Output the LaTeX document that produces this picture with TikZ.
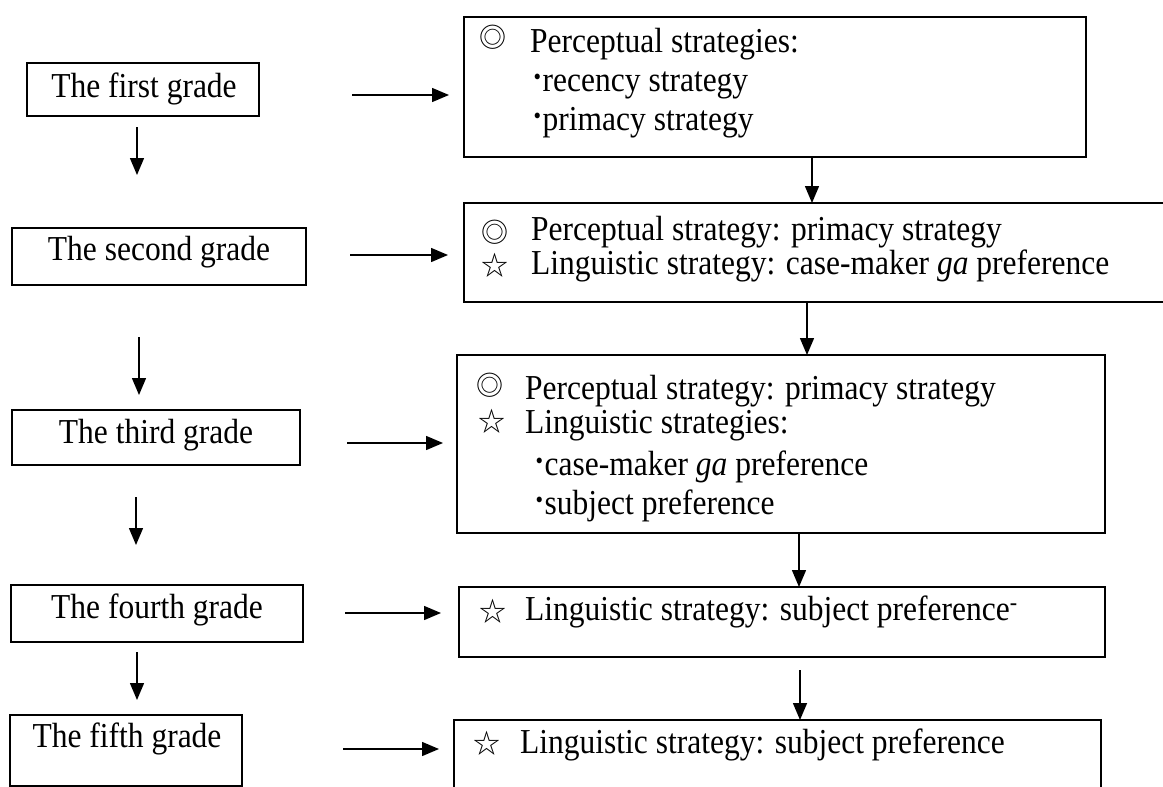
\documentclass[tikz,border=0pt]{standalone}
\usepackage{fontspec}
\setmainfont{Liberation Serif}[FakeStretch=0.9]
\newfontfamily\symfont{Noto Sans CJK JP}
\usetikzlibrary{arrows.meta}
\newcommand{\bul}{\raisebox{3pt}{\textbf{·}}}
\tikzset{
  box/.style={draw, line width=1.9pt, rectangle, inner sep=0pt, outer sep=0pt, anchor=north west},
  txt/.style={inner sep=0pt, anchor=base west, font=\fontsize{35}{40}\selectfont},
  ctxt/.style={inner sep=0pt, anchor=base, font=\fontsize{35}{40}\selectfont},
  sym/.style={inner sep=0pt, anchor=center, font=\symfont\fontsize{27}{30}\selectfont},
  arr/.style={line width=1.5pt, -{Triangle[length=17pt,width=14pt]}},
}
\newcommand{\mkbox}[5]{\node[box, minimum width=#4pt-#2pt, minimum height=#5pt-#3pt] (#1) at (#2,#3) {};}
\begin{document}
\begin{tikzpicture}[x=1pt, y=-1pt]
\useasboundingbox (0,0) rectangle (1163,787);
\clip (0,0) rectangle (1163,787);
% left boxes
\mkbox{L1}{27}{63}{259}{116}
\mkbox{L2}{12}{228}{306}{285}
\mkbox{L3}{12}{410}{300}{465}
\mkbox{L4}{11}{585}{303}{642}
\mkbox{L5}{10}{715}{242}{786}
\node[ctxt] (t1) at (144,97) {The first grade};
\node[ctxt] (t2) at (159,260) {The second grade};
\node[ctxt] (t3) at (156,443) {The third grade};
\node[ctxt] (t4) at (157,618) {The fourth grade};
\node[ctxt] (t5) at (127,747) {The fifth grade};
% right boxes
\mkbox{R1}{464}{17}{1086}{157}
\mkbox{R2}{464}{203}{1175}{302}
\mkbox{R3}{457}{355}{1105}{533}
\mkbox{R4}{459}{587}{1105}{657}
\mkbox{R5}{454}{720}{1101}{800}
% box 1
\node[sym] (s11) at (493,37) {◎};
\node[txt] (r11) at (530,52) {Perceptual strategies:};
\node[txt] (r12) at (532,91) {\bul recency strategy};
\node[txt] (r13) at (532,130) {\bul primacy strategy};
% box 2
\node[sym] (s21) at (495,232) {◎};
\node[txt] (r21) at (531,240) {Perceptual strategy: primacy strategy};
\node[sym] (s22) at (495,265) {☆};
\node[txt] (r22) at (531,274) {Linguistic strategy: case-maker \textit{ga} preference};
% box 3
\node[sym] (s31) at (490,385) {◎};
\node[txt] (r31) at (525,399) {Perceptual strategy: primacy strategy};
\node[sym] (s32) at (492,421) {☆};
\node[txt] (r32) at (525,433) {Linguistic strategies:};
\node[txt] (r33) at (534,475) {\bul case-maker \textit{ga} preference};
\node[txt] (r34) at (534,514) {\bul subject preference};
% box 4
\node[sym] (s41) at (493,611) {☆};
\node[txt] (r41) at (525,620) {Linguistic strategy: subject preference\textsuperscript{-}};
% box 5
\node[sym] (s51) at (487,743) {☆};
\node[txt] (r51) at (520,753) {Linguistic strategy: subject preference};
% left vertical arrows
\coordinate (v1a) at (137,127); \coordinate (v1b) at (137,175);
\coordinate (v2a) at (139,337); \coordinate (v2b) at (139,395);
\coordinate (v3a) at (136,497); \coordinate (v3b) at (136,545);
\coordinate (v4a) at (137,652); \coordinate (v4b) at (137,700);
\draw[arr] (v1a) -- (v1b);
\draw[arr] (v2a) -- (v2b);
\draw[arr] (v3a) -- (v3b);
\draw[arr] (v4a) -- (v4b);
% horizontal arrows
\coordinate (h1a) at (352,95);  \coordinate (h1b) at (449,95);
\coordinate (h2a) at (350,255); \coordinate (h2b) at (448,255);
\coordinate (h3a) at (347,443); \coordinate (h3b) at (443,443);
\coordinate (h4a) at (345,613); \coordinate (h4b) at (441,613);
\coordinate (h5a) at (343,749); \coordinate (h5b) at (439,749);
\draw[arr] (h1a) -- (h1b);
\draw[arr] (h2a) -- (h2b);
\draw[arr] (h3a) -- (h3b);
\draw[arr] (h4a) -- (h4b);
\draw[arr] (h5a) -- (h5b);
% right vertical arrows
\coordinate (k1) at (812,0);
\coordinate (k2) at (807,0);
\coordinate (k3) at (799,0);
\coordinate (k4) at (800,670);
\draw[arr] (k1 |- R1.south) -- (k1 |- R2.north);
\draw[arr] (k2 |- R2.south) -- (k2 |- R3.north);
\draw[arr] (k3 |- R3.south) -- (k3 |- R4.north);
\draw[arr] (k4) -- (k4 |- R5.north);
\end{tikzpicture}
\end{document}
